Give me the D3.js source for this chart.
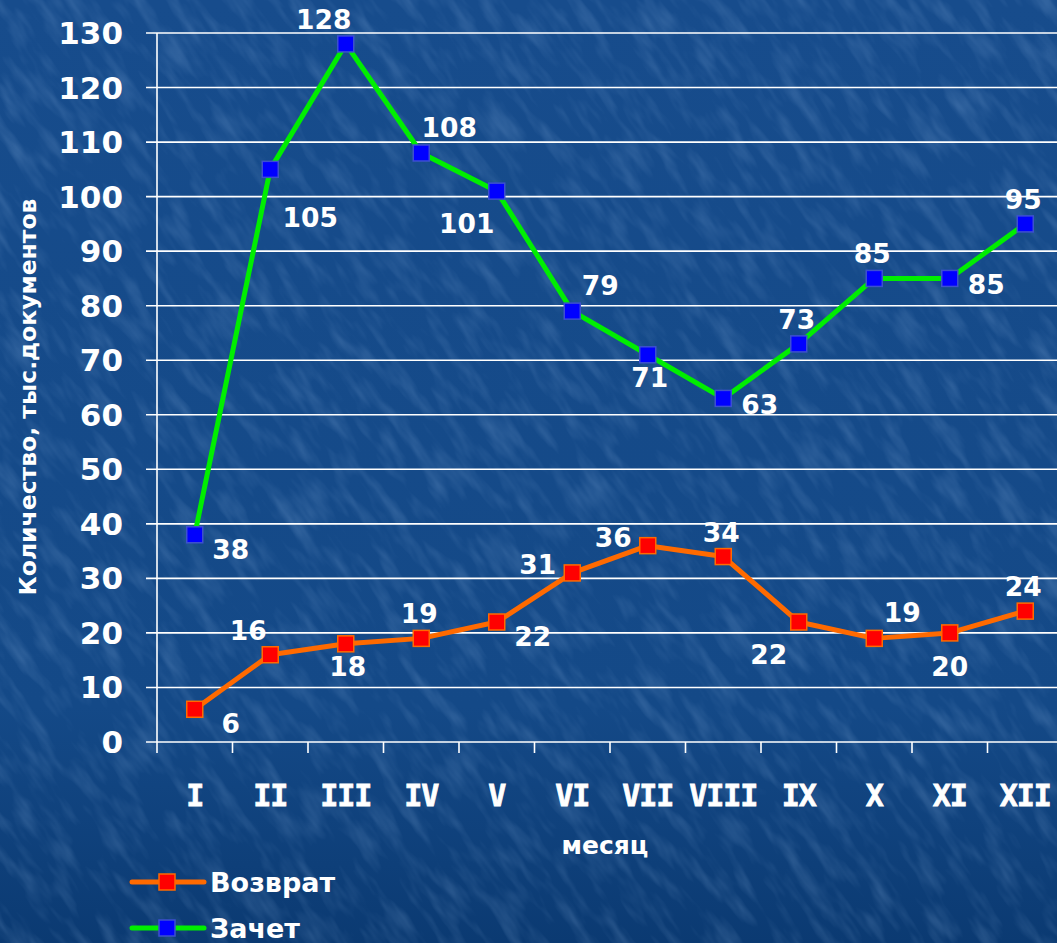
<!DOCTYPE html>
<html>
<head>
<meta charset="UTF-8">
<title>Возврат и зачет</title>
<script src="https://d3js.org/d3.v7.min.js"></script>
<style>
  html, body { margin: 0; padding: 0; background: #144886; overflow: hidden; }
  svg { display: block; font-family: "DejaVu Sans", Verdana, sans-serif; font-weight: bold; }
</style>
</head>
<body>
<svg></svg>
<script>
// months and values
const months = ["I", "II", "III", "IV", "V", "VI", "VII", "VIII", "IX", "X", "XI", "XII"];
const vozvrat = [6, 16, 18, 19, 22, 31, 36, 34, 22, 19, 20, 24];
const zachet = [38, 105, 128, 108, 101, 79, 71, 63, 73, 85, 85, 95];
const yTicks = [0, 10, 20, 30, 40, 50, 60, 70, 80, 90, 100, 110, 120, 130];
// where each value label sits around its point
const vozvratPos = ["br", "tl", "b", "t", "br", "l", "l", "t", "bl", "tr", "bb", "t"];
const zachetPos = ["br", "bbr", "tl", "tr", "bl", "tr", "b", "r", "t", "t", "r", "t"];

let width = 1057, height = 943;
let svg = d3.select("svg").attr("width", width).attr("height", height);

// textured blue background
let defs = svg.append("defs");
let grad = defs.append("linearGradient").attr("id", "bg").attr("x1", 0).attr("y1", 0).attr("x2", 0).attr("y2", 1);
grad.append("stop").attr("offset", "0%").attr("stop-color", "#174c8c");
grad.append("stop").attr("offset", "75%").attr("stop-color", "#144987");
grad.append("stop").attr("offset", "100%").attr("stop-color", "#0b3a72");
let filt = defs.append("filter").attr("id", "tex").attr("x", 0).attr("y", 0).attr("width", "100%").attr("height", "100%");
filt.append("feTurbulence").attr("type", "fractalNoise").attr("baseFrequency", "0.07 0.02").attr("numOctaves", 3).attr("seed", 3).attr("result", "n");
filt.append("feColorMatrix").attr("in", "n").attr("type", "matrix")
  .attr("values", "0 0 0 0 0.35  0 0 0 0 0.55  0 0 0 0 0.85  2.0 0 0 0 -0.9")
  .attr("result", "c");

svg.append("rect").attr("width", width).attr("height", height).attr("fill", "url(#bg)");
svg.append("g").attr("transform", "rotate(-35 528 470)")
  .append("rect").attr("x", -500).attr("y", -500).attr("width", 2100).attr("height", 2000)
  .attr("fill", "#fff").attr("filter", "url(#tex)").attr("opacity", 0.22);

let x = d3.scaleBand().domain(months).range([157, 1063]);
let y = d3.scaleLinear().domain([0, 130]).range([742, 33]);
let cx = m => x(m) + x.bandwidth() / 2;

// grid lines + y ticks
svg.append("g").selectAll("line").data(yTicks).enter().append("line")
  .attr("x1", 146).attr("x2", width)
  .attr("y1", d => y(d)).attr("y2", d => y(d))
  .attr("stroke", "#ffffff").attr("stroke-width", 1.6);

// y axis line
svg.append("line").attr("x1", 157).attr("x2", 157).attr("y1", y(130)).attr("y2", 753)
  .attr("stroke", "#ffffff").attr("stroke-width", 1.6);

// x ticks between categories
svg.append("g").selectAll("line").data(months).enter().append("line")
  .attr("x1", d => x(d) + x.bandwidth())
  .attr("x2", d => x(d) + x.bandwidth())
  .attr("y1", 742).attr("y2", 753)
  .attr("stroke", "#ffffff").attr("stroke-width", 1.6);

// y tick labels
svg.append("g").selectAll("text").data(yTicks).enter().append("text")
  .attr("x", 123).attr("y", d => y(d) + 11)
  .attr("text-anchor", "end").attr("fill", "#ffffff").attr("font-size", 31)
  .text(d => d);

// x tick labels
svg.append("g").selectAll("text").data(months).enter().append("text")
  .attr("x", d => cx(d)).attr("y", 806)
  .attr("text-anchor", "middle").attr("fill", "#ffffff").attr("font-size", 30)
  .attr("font-family", "'DejaVu Sans Mono', monospace")
  .attr("stroke", "#ffffff").attr("stroke-width", 0.8)
  .attr("letter-spacing", -1)
  .text(d => d);

// axis titles
svg.append("text").attr("transform", "translate(36,397) rotate(-90)")
  .attr("text-anchor", "middle").attr("fill", "#ffffff").attr("font-size", 23.5)
  .text("Количество, тыс.документов");
svg.append("text").attr("x", 605).attr("y", 854)
  .attr("text-anchor", "middle").attr("fill", "#ffffff").attr("font-size", 25)
  .text("месяц");

let line = d3.line().x((d, i) => cx(months[i])).y(d => y(d));

// label offsets by placement code
let off = {
  br: [36, 24, "middle"], bbr: [40, 58, "middle"], bl: [-30, 42, "middle"],
  b: [2, 32, "middle"], bb: [0, 43, "middle"],
  t: [-2, -15, "middle"], tl: [-22, -15, "middle"], tr: [28, -16, "middle"],
  r: [18, 16, "start"], l: [-16, 1, "end"]
};

function drawSeries(values, pos, lineColor, fill, border) {
  let g = svg.append("g");
  g.append("path").datum(values).attr("d", line)
    .attr("fill", "none").attr("stroke", lineColor).attr("stroke-width", 5).attr("stroke-linejoin", "round");
  g.selectAll("rect").data(values).enter().append("rect")
    .attr("x", (d, i) => cx(months[i]) - 8).attr("y", d => y(d) - 8)
    .attr("width", 16).attr("height", 16)
    .attr("fill", fill).attr("stroke", border).attr("stroke-width", 1.5);
  g.selectAll("text").data(values).enter().append("text")
    .attr("x", (d, i) => cx(months[i]) + off[pos[i]][0])
    .attr("y", (d, i) => y(d) + off[pos[i]][1])
    .attr("text-anchor", (d, i) => off[pos[i]][2])
    .attr("fill", "#ffffff").attr("font-size", 26.5)
    .text(d => d);
}

drawSeries(zachet, zachetPos, "#00ee00", "#0000ff", "#3c4fd0");
drawSeries(vozvrat, vozvratPos, "#ff6a00", "#ff0000", "#ff6a00");

// legend
let legend = [
  {name: "Возврат", line: "#ff6a00", fill: "#ff0000", border: "#ff6a00"},
  {name: "Зачет", line: "#00ee00", fill: "#0000ff", border: "#3c4fd0"}
];
let lg = svg.append("g").selectAll("g").data(legend).enter().append("g")
  .attr("transform", (d, i) => "translate(0," + (882 + i * 46) + ")");
lg.append("line").attr("x1", 132).attr("x2", 204).attr("stroke", d => d.line).attr("stroke-width", 5).attr("stroke-linecap", "round");
lg.append("rect").attr("x", 159).attr("y", -8).attr("width", 16).attr("height", 16)
  .attr("fill", d => d.fill).attr("stroke", d => d.border).attr("stroke-width", 1.5);
lg.append("text").attr("x", 210).attr("y", 10).attr("fill", "#ffffff").attr("font-size", 27)
  .text(d => d.name);
</script>
</body>
</html>
